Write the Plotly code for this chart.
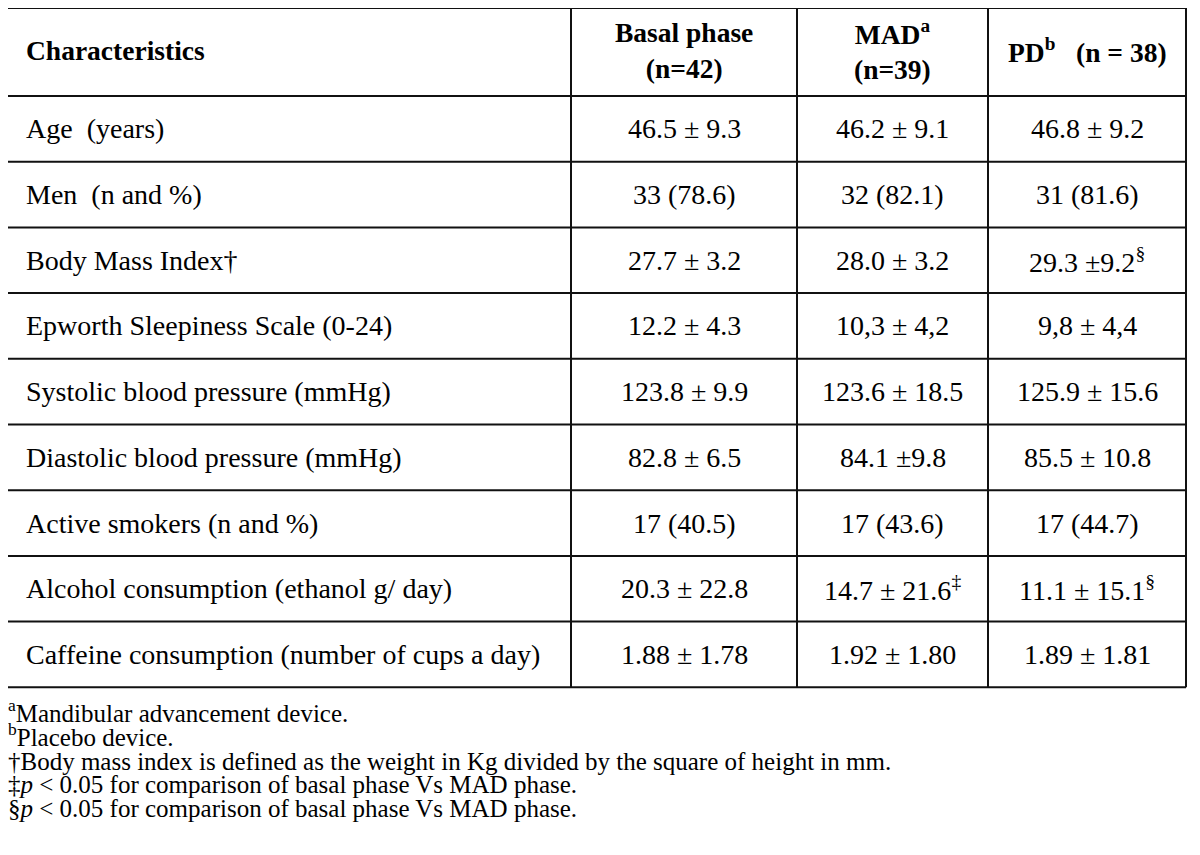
import plotly.graph_objects as go

# ---- data ----
headers = ["<b>Characteristics</b>", "<b>Basal phase<br>(n=42)</b>",
           "<b>MAD<sup>a</sup><br>(n=39)</b>", "<b>PD<sup>b</sup>   (n = 38)</b>"]
characteristics = [
    "Age  (years)",
    "Men  (n and %)",
    "Body Mass Index†",
    "Epworth Sleepiness Scale (0-24)",
    "Systolic blood pressure (mmHg)",
    "Diastolic blood pressure (mmHg)",
    "Active smokers (n and %)",
    "Alcohol consumption (ethanol g/ day)",
    "Caffeine consumption (number of cups a day)",
]
basal = ["46.5 ± 9.3", "33 (78.6)", "27.7 ± 3.2", "12.2 ± 4.3", "123.8 ± 9.9",
         "82.8 ± 6.5", "17 (40.5)", "20.3 ± 22.8", "1.88 ± 1.78"]
mad = ["46.2 ± 9.1", "32 (82.1)", "28.0 ± 3.2", "10,3 ± 4,2", "123.6 ± 18.5",
       "84.1 ±9.8", "17 (43.6)", "14.7 ± 21.6<sup>‡</sup>", "1.92 ± 1.80"]
pd_ = ["46.8 ± 9.2", "31 (81.6)", "29.3 ±9.2<sup>§</sup>", "9,8 ± 4,4", "125.9 ± 15.6",
       "85.5 ± 10.8", "17 (44.7)", "11.1 ± 15.1<sup>§</sup>", "1.89 ± 1.81"]
footnotes = [
    "<sup>a</sup>Mandibular advancement device.",
    "<sup>b</sup>Placebo device.",
    "†Body mass index is defined as the weight in Kg divided by the square of height in mm.",
    "‡<i>p</i> < 0.05 for comparison of basal phase Vs MAD phase.",
    "§<i>p</i> < 0.05 for comparison of basal phase Vs MAD phase.",
]

# ---- layout geometry (style) ----
W, H = 1200, 855
OFF = 8  # page body margin
col_edges = [7, 571, 797, 988, 1186]
top, header_bottom, row_h = 8, 96, 65.7
FONT = "Liberation Serif, Times New Roman, serif"
FS = 28
FS_HEAD = 27.5
FS_NOTE = 25
LINE = dict(color="#111111", width=2)

fig = go.Figure()
fig.add_trace(go.Scatter(x=[0, W], y=[0, H], mode="markers",
                         marker=dict(opacity=0), hoverinfo="skip", showlegend=False))

n = len(characteristics)
row_edges = [top, header_bottom] + [header_bottom + row_h * (i + 1) for i in range(n)]

shapes = []
for y in row_edges:
    shapes.append(dict(type="line", xref="x", yref="y", x0=col_edges[0], x1=col_edges[-1],
                       y0=y, y1=y, line=LINE))
for x in col_edges:
    shapes.append(dict(type="line", xref="x", yref="y", x0=x, x1=x,
                       y0=row_edges[0], y1=row_edges[-1], line=LINE))

ann = []
def cell(text, ci, yc, size):
    if ci == 0:
        ann.append(dict(x=col_edges[0] + 17, y=yc, xref="x", yref="y", text=text,
                        showarrow=False, xanchor="left", yanchor="middle",
                        font=dict(family=FONT, size=size, color="#000")))
    else:
        ann.append(dict(x=(col_edges[ci] + col_edges[ci + 1]) / 2, y=yc, xref="x", yref="y",
                        text=text, showarrow=False, xanchor="center", yanchor="middle",
                        align="center", font=dict(family=FONT, size=size, color="#000")))

hc = (row_edges[0] + row_edges[1]) / 2 - 2
for ci, h in enumerate(headers):
    cell(h, ci, hc, FS_HEAD)

cols = [characteristics, basal, mad, pd_]
for ri in range(n):
    yc = (row_edges[ri + 1] + row_edges[ri + 2]) / 2
    for ci in range(4):
        cell(cols[ci][ri], ci, yc, FS)

fy0, fdy = 714, 23.5
for i, t in enumerate(footnotes):
    yy = fy0 + i * fdy - (3 if t.startswith("<sup>") else 0)
    ann.append(dict(x=(6 - OFF) / (W - OFF), y=yy, xref="paper", yref="y", text=t,
                    showarrow=False, xanchor="left", yanchor="middle",
                    font=dict(family=FONT, size=FS_NOTE, color="#000")))

# the page body has an 8 px margin: shift the visible window so that
# figure coordinates equal reference-image pixel coordinates
fig.update_layout(
    width=W - OFF, height=H - OFF, margin=dict(l=0, r=0, t=0, b=0),
    paper_bgcolor="white", plot_bgcolor="white",
    xaxis=dict(range=[OFF, W], visible=False, fixedrange=True),
    yaxis=dict(range=[H, OFF], visible=False, fixedrange=True),
    shapes=shapes, annotations=ann, showlegend=False,
)
fig.write_html("out.html", config={"displayModeBar": False})
